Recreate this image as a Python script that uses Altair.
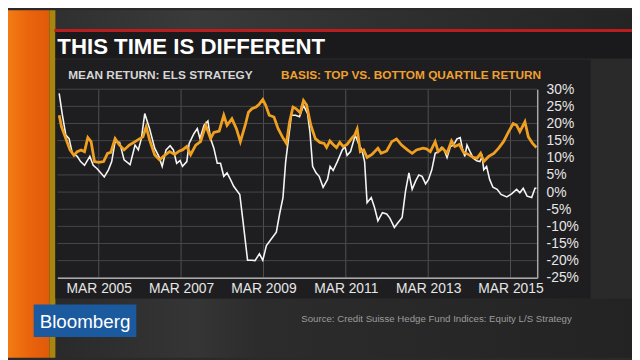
import altair as alt
import pandas as pd

# ---------------- data ----------------
white_dates = [
    "2004-03-15", "2004-04-13", "2004-05-13", "2004-06-11", "2004-07-10", "2004-08-22",
    "2004-09-21", "2004-10-26", "2004-12-12", "2005-01-11", "2005-02-15", "2005-04-19",
    "2005-05-26", "2005-06-24", "2005-07-24", "2005-09-02", "2005-10-12", "2005-12-04",
    "2006-01-17", "2006-02-15", "2006-03-14", "2006-04-13", "2006-05-26", "2006-07-10",
    "2006-08-16", "2006-09-15", "2006-10-19", "2006-11-24", "2006-12-23", "2007-01-21",
    "2007-02-20", "2007-03-14", "2007-04-21", "2007-05-12", "2007-06-24", "2007-07-23",
    "2007-08-16", "2007-09-21", "2007-10-25", "2007-11-18", "2007-12-17", "2008-01-16",
    "2008-02-14", "2008-03-14", "2008-04-12", "2008-05-06", "2008-06-10", "2008-08-03",
    "2008-09-07", "2008-10-11", "2008-11-18", "2008-12-16", "2009-01-24", "2009-02-23",
    "2009-03-27", "2009-05-11", "2009-06-23", "2009-07-22", "2009-08-21", "2009-09-14",
    "2009-10-06", "2009-11-04", "2009-12-11", "2010-01-15", "2010-02-19", "2010-03-27",
    "2010-04-17", "2010-05-11", "2010-06-10", "2010-07-08", "2010-08-12", "2010-09-20",
    "2010-10-13", "2010-11-09", "2010-12-16", "2011-01-29", "2011-02-21", "2011-03-13",
    "2011-04-12", "2011-05-24", "2011-06-28", "2011-07-22", "2011-08-15", "2011-09-06",
    "2011-10-13", "2011-11-11", "2011-12-11", "2012-01-20", "2012-02-27", "2012-03-26",
    "2012-05-05", "2012-06-09", "2012-07-13", "2012-08-12", "2012-09-11", "2012-10-10",
    "2012-11-09", "2012-12-08", "2013-01-06", "2013-02-06", "2013-03-04", "2013-04-02",
    "2013-05-02", "2013-05-29", "2013-06-27", "2013-07-21", "2013-08-15", "2013-09-14",
    "2013-10-12", "2013-11-11", "2013-12-10", "2013-12-29", "2014-01-20", "2014-02-08",
    "2014-03-07", "2014-04-05", "2014-05-05", "2014-06-03", "2014-06-22", "2014-07-07",
    "2014-08-01", "2014-08-28", "2014-09-26", "2014-11-03", "2014-12-07", "2015-01-27",
    "2015-03-11", "2015-04-24", "2015-05-23", "2015-06-22", "2015-07-26", "2015-09-05",
    "2015-10-04", "2015-10-17",
]
white_vals = [
    28.8, 22.4, 16.6, 15.6, 11.3, 10.4,
    8.9, 7.8, 10.4, 7.8, 6.8, 4.4,
    6.5, 8.9, 14.7, 14.5, 9.4, 8.0,
    13.7, 12.3, 15.6, 22.9, 18.5, 12.8,
    10.4, 7.5, 12.3, 13.5, 12.3, 8.4,
    9.2, 7.5, 8.9, 14.2, 17.1, 18.5,
    15.6, 19.5, 20.7, 15.6, 12.8, 8.4,
    8.4, 4.6, 5.6, 4.1, 1.7, -0.7,
    -10.3, -19.9, -19.9, -20.0, -18.0, -19.9,
    -15.6, -13.6, -11.7, -6.4, -1.6, 8.9,
    14.7, 22.4, 22.4, 22.0, 25.3, 22.9,
    17.6, 7.5, 5.6, 4.6, 1.4, 3.7,
    7.5, 6.3, 8.9, 12.3, 13.3, 10.7,
    11.8, 16.6, 13.7, 12.3, 8.9, -3.1,
    -1.6, -4.5, -8.4, -6.0, -6.4, -7.6,
    -10.3, -8.8, -7.4, 0.3, 5.6, 0.8,
    3.2, 5.0, 4.6, 2.4, 3.7, 6.5,
    11.3, 11.8, 13.0, 12.3, 10.1, 13.3,
    13.7, 15.5, 15.9, 12.8, 10.4, 13.7,
    11.8, 9.9, 9.1, 8.9, 10.4, 6.5,
    7.5, 3.7, 1.4, 0.8, -0.7, -1.4,
    -0.5, 0.8, -0.2, 1.1, -1.2, -1.6,
    1.1, 1.1,
]

orange_dates = [
    "2004-03-15", "2004-04-05", "2004-05-13", "2004-06-19", "2004-07-24", "2004-08-22",
    "2004-09-26", "2004-10-26", "2004-11-24", "2004-12-23", "2005-01-22", "2005-03-01",
    "2005-04-13", "2005-05-18", "2005-06-16", "2005-07-24", "2005-09-02", "2005-10-12",
    "2005-11-27", "2006-01-17", "2006-03-01", "2006-03-28", "2006-04-26", "2006-05-26",
    "2006-07-10", "2006-08-22", "2006-10-06", "2006-11-19", "2007-01-03", "2007-02-15",
    "2007-03-14", "2007-04-21", "2007-05-25", "2007-07-09", "2007-08-21", "2007-10-06",
    "2007-11-18", "2007-12-17", "2008-02-02", "2008-03-14", "2008-04-12", "2008-05-25",
    "2008-07-04", "2008-08-08", "2008-09-20", "2008-10-19", "2008-11-18", "2008-12-25",
    "2009-01-24", "2009-02-23", "2009-03-21", "2009-04-21", "2009-06-02", "2009-07-09",
    "2009-08-16", "2009-09-20", "2009-10-19", "2009-11-18", "2009-12-16", "2010-01-21",
    "2010-02-19", "2010-03-19", "2010-04-25", "2010-06-04", "2010-07-14", "2010-08-21",
    "2010-09-12", "2010-10-11", "2010-11-09", "2010-12-09", "2011-01-07", "2011-02-06",
    "2011-03-13", "2011-04-20", "2011-05-18", "2011-06-10", "2011-07-08", "2011-08-07",
    "2011-09-06", "2011-10-19", "2011-12-11", "2012-01-09", "2012-02-27", "2012-04-12",
    "2012-05-24", "2012-07-08", "2012-08-29", "2012-10-10", "2012-11-17", "2013-01-14",
    "2013-02-13", "2013-03-20", "2013-05-02", "2013-05-29", "2013-07-07", "2013-08-15",
    "2013-09-24", "2013-10-23", "2013-12-02", "2014-01-09", "2014-02-19", "2014-04-05",
    "2014-05-09", "2014-06-09", "2014-07-07", "2014-08-20", "2014-10-04", "2014-11-16",
    "2014-12-29", "2015-02-13", "2015-03-25", "2015-04-24", "2015-05-23", "2015-07-07",
    "2015-08-06", "2015-09-13", "2015-10-17",
]
orange_vals = [
    22.4, 19.0, 15.6, 12.3, 10.7, 11.8,
    12.3, 11.8, 15.9, 14.7, 8.9, 8.7,
    8.9, 11.3, 11.6, 15.6, 13.7, 12.3,
    13.7, 14.7, 15.6, 16.1, 19.0, 15.2,
    10.9, 9.4, 10.7, 11.8, 11.0, 12.0,
    12.3, 13.3, 10.9, 13.7, 14.7, 19.5,
    15.6, 17.4, 17.8, 22.4, 19.5, 21.4,
    18.5, 14.7, 19.5, 23.3, 24.3, 24.8,
    25.7, 27.0, 25.3, 22.4, 21.9, 18.5,
    16.1, 14.2, 20.5, 24.8, 24.3, 23.1,
    26.7, 25.4, 19.5, 15.6, 14.5, 14.2,
    13.0, 14.9, 13.9, 13.0, 14.5, 13.3,
    13.9, 15.6, 16.6, 18.4, 11.8, 12.3,
    10.1, 11.0, 12.8, 11.3, 12.0, 14.7,
    15.5, 13.7, 12.3, 11.3, 12.3, 12.8,
    12.6, 11.8, 14.7, 11.8, 12.8, 11.3,
    14.9, 13.3, 13.9, 11.6, 11.0, 10.1,
    9.9, 11.3, 8.9, 10.4, 11.3, 12.8,
    14.7, 17.6, 20.0, 19.5, 17.6, 20.5,
    16.1, 14.2, 13.0,
]

y_ticks = [-25, -20, -15, -10, -5, 0, 5, 10, 15, 20, 25, 30]
x_tick_years = [2005, 2007, 2009, 2011, 2013, 2015]

TITLE = "THIS TIME IS DIFFERENT"
SUB_LEFT = "MEAN RETURN: ELS STRATEGY"
SUB_RIGHT = "BASIS: TOP VS. BOTTOM QUARTILE RETURN"
SOURCE = "Source: Credit Suisse Hedge Fund Indices: Equity L/S Strategy"
BRAND = "Bloomberg"

# ---------------- build ----------------
W, H = 486, 191
FONT = "Liberation Sans, Arial, sans-serif"

white_df = pd.DataFrame({"date": white_dates, "value": white_vals})
orange_df = pd.DataFrame({"date": orange_dates, "value": orange_vals})
xgrid_df = pd.DataFrame({"date": [f"{y}-03-01" for y in x_tick_years]})
ygrid_df = pd.DataFrame({"value": y_ticks})

x_enc = alt.X(
    "date:T",
    scale=alt.Scale(
        type="utc",
        domain=[alt.DateTime(year=2004, month=2, date=28, utc=True),
                alt.DateTime(year=2015, month=10, date=24, utc=True)],
    ),
    axis=alt.Axis(
        values=[alt.DateTime(year=y, month=3, date=1, utc=True) for y in x_tick_years],
        labelExpr="upper(utcFormat(datum.value, '%b %Y'))",
        title=None, ticks=False, domainColor="#a8a8a8", domainWidth=1.5,
        labelColor="#e6e6e6", labelFontSize=14, labelFont=FONT, labelPadding=4,
        grid=False, labelOverlap=False, zindex=1,
    ),
)
y_enc = alt.Y(
    "value:Q",
    scale=alt.Scale(domain=[-25, 30], nice=False, zero=False),
    axis=alt.Axis(
        orient="right", values=y_ticks, labelExpr="datum.value + '%'",
        title=None, ticks=False, domainColor="#a8a8a8", domainWidth=1.5,
        labelColor="#e6e6e6", labelFontSize=14, labelFont=FONT, labelPadding=9,
        grid=False, labelOverlap=False, labelFlush=False, zindex=1,
    ),
)

x_grid = alt.Chart(xgrid_df).mark_rule(color="#505054", strokeWidth=1).encode(x=x_enc)
y_grid = alt.Chart(ygrid_df).mark_rule(color="#464649", strokeWidth=1).encode(y=y_enc)

white_line = alt.Chart(white_df).mark_line(
    color="#f5f5f5", strokeWidth=1.6, clip=True
).encode(x=x_enc, y=y_enc)
orange_line = alt.Chart(orange_df).mark_line(
    color="#f0a020", strokeWidth=2.8, clip=True
).encode(x=x_enc, y=y_enc)


def one():
    return alt.Data(values=[{"k": 0}])


def box(x, x2, y, y2, fill):
    return alt.Chart(one()).mark_rect(fill=fill, strokeWidth=0).encode(
        x=alt.value(x), x2=alt.value(x2), y=alt.value(y), y2=alt.value(y2)
    )


def hgrad(stops):
    return alt.LinearGradient(
        gradient="linear", x1=0, x2=1, y1=0, y2=0,
        stops=[alt.GradientStop(color=c, offset=o) for o, c in stops],
    )


def label(text, x, y, size, color, weight="normal", align="left", baseline="alphabetic", font=FONT):
    return alt.Chart(one()).mark_text(
        text=text, fontSize=size, color=color, fontWeight=weight, align=align,
        baseline=baseline, font=font,
    ).encode(x=alt.value(x), y=alt.value(y))


# page (px, py) -> mark (px - 58, py - 88)
decor = [
    box(-50, 582, -80, -61, hgrad([(0, "#2c2c2c"), (0.3, "#3a3a3a"), (0.55, "#313131"), (1, "#242424")])),
    box(-50, 582, 212, 272, hgrad([(0, "#262626"), (0.3, "#353535"), (0.4, "#2c2c2c"), (1, "#232323")])),
    box(-50, -8, -80, 272, hgrad([(0, "#f27c14"), (0.5, "#ea640c"), (1, "#e05a0a")])),
    box(-8, -2, -80, 272, "#a8850f"),
    box(-3, 582, -61, -58, "#b91d1d"),
    box(-2, 582, -58, -31, "#1a1a1c"),
    box(-2, 540, -30, 212, "#1e1e20"),
    box(-24, 80, 218, 251, "#1b5a9f"),
]

texts = [
    label(TITLE, 0, -36, 22.5, "#ffffff", weight="bold"),
    label(SUB_LEFT, 11, -10.5, 12, "#d6d6d6", weight="bold"),
    label(SUB_RIGHT, 490, -10.5, 12, "#f0a030", weight="bold", align="right"),
    label(BRAND, 28, 236, 19, "#ffffff", align="center", baseline="middle"),
    label(SOURCE, 247, 233, 9.8, "#9c9c9c", baseline="middle"),
]

chart = alt.layer(*decor, x_grid, y_grid, white_line, orange_line, *texts).properties(
    width=W, height=H,
    autosize=alt.AutoSizeParams(type="none"),
    padding={"left": 50, "top": 80, "right": 96, "bottom": 81},
    background="#2a2a2a",
).configure_view(stroke=None)

chart.save("out.html", embed_options={"renderer": "svg", "actions": False})
